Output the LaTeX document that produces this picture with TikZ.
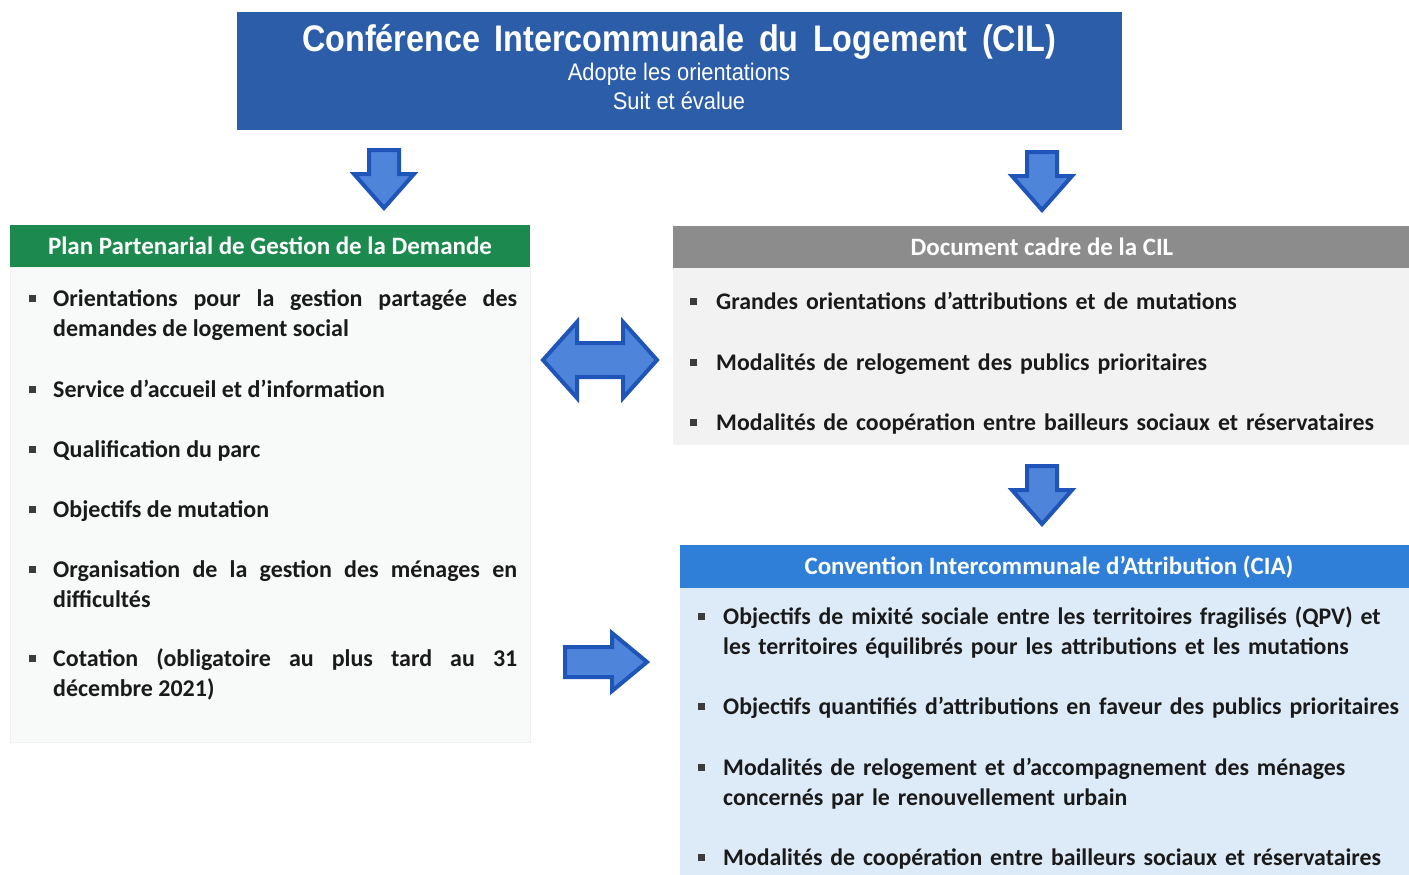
\documentclass[tikz,border=0pt]{standalone}
\usepackage{fontspec}
\setmainfont{Carlito}
\newfontfamily\arialf{Liberation Sans}
\newfontfamily\arialt[FakeStretch=0.875,WordSpace={1.6,1,1}]{Liberation Sans}
\newfontfamily\arials[FakeStretch=0.91]{Liberation Sans}
\usetikzlibrary{calc}
\definecolor{cilblue}{HTML}{2C5DA9}
\definecolor{ppgdgreen}{HTML}{1C8A4E}
\definecolor{docgray}{HTML}{8C8C8C}
\definecolor{docbody}{HTML}{F2F2F2}
\definecolor{ciablue}{HTML}{2F7FD9}
\definecolor{ciabody}{HTML}{DDEBF8}
\definecolor{leftbody}{HTML}{F8F9F9}
\definecolor{arrfill}{HTML}{4F84DB}
\definecolor{arrdraw}{HTML}{1F55B8}
\definecolor{bulgray}{HTML}{3C3C3C}
\definecolor{txt}{HTML}{1A1A1A}
\tikzset{
  box/.style={rectangle, inner sep=0pt, outer sep=0pt, anchor=north west},
  head/.style={text=white, font=\bfseries\fontsize{25}{28}\selectfont},
  itemj/.style={anchor=north west, inner sep=0pt, text width=464pt, align=justify, text=txt, font=\bfseries\fontsize{24}{30}\selectfont},
  iteml/.style={anchor=north west, inner sep=0pt, text width=700pt, align=left, text=txt, font=\bfseries\fontsize{23.8}{30}\selectfont},
  bul/.style={rectangle, fill=bulgray, minimum size=7pt, inner sep=0pt},
  blockarr/.style={fill=arrfill, draw=arrdraw, line width=4pt, line join=miter},
}
\newcommand\dnarrow[1]{\begin{scope}[shift={(#1)}]
  \draw[blockarr] (-15,0) -- (15,0) -- (15,24) -- (30,24) -- (0,58) -- (-30,24) -- (-15,24) -- cycle;
\end{scope}}
\begin{document}
\begin{tikzpicture}[x=1pt,y=-1pt]
\useasboundingbox[fill=white] (0,0) rectangle (1409,875);

% CIL box
\node[box, fill=cilblue, minimum width=885pt, minimum height=118pt] (cil) at (237,12) {};
\node[text=white, font=\arialt\bfseries\fontsize{37}{40}\selectfont] (cilt) at (679,42) {Conférence Intercommunale du Logement (CIL)};
\node[text=white, font=\arials\fontsize{24}{28}\selectfont] (cils1) at (679,74) {Adopte les orientations};
\node[text=white, font=\arials\fontsize{24}{28}\selectfont] (cils2) at (679,101) {Suit et évalue};

% PPGD
\node[box, fill=leftbody, draw=black!6, minimum width=520pt, minimum height=475pt] (ppgdb) at (10,267) {};
\node[box, fill=ppgdgreen, minimum width=520pt, minimum height=42pt] (ppgdh) at (10,225) {};
\node[head] (ppgdt) at (270,246) {Plan Partenarial de Gestion de la Demande};

\node[itemj] (l1) at (53,285) {\strut Orientations pour la gestion partagée des\linebreak demandes de logement social};
\node[bul] (b1) at (32,298) {};
\node[itemj] (l2) at (53,376) {\strut Service d’accueil et d’information};
\node[bul] (b2) at (32,389) {};
\node[itemj] (l3) at (53,436) {\strut Qualification du parc};
\node[bul] (b3) at (32,449) {};
\node[itemj] (l4) at (53,496) {\strut Objectifs de mutation};
\node[bul] (b4) at (32,509) {};
\node[itemj] (l5) at (53,556) {\strut Organisation de la gestion des ménages en\linebreak difficultés};
\node[bul] (b5) at (32,569) {};
\node[itemj] (l6) at (53,645) {\strut Cotation (obligatoire au plus tard au 31\linebreak décembre 2021)};
\node[bul] (b6) at (32,658) {};

% Document cadre
\node[box, fill=docbody, minimum width=736pt, minimum height=177pt] (docb) at (673,268) {};
\node[box, fill=docgray, minimum width=736pt, minimum height=42pt] (doch) at (673,226) {};
\node[head] (doct) at (1042,247) {Document cadre de la CIL};
\node[iteml] (r1) at (716,288) {\strut Grandes orientations d’attributions et de mutations};
\node[bul] (rb1) at (693,301) {};
\node[iteml] (r2) at (716,349) {\strut Modalités de relogement des publics prioritaires};
\node[bul] (rb2) at (693,362) {};
\node[iteml] (r3) at (716,409) {\strut Modalités de coopération entre bailleurs sociaux et réservataires};
\node[bul] (rb3) at (693,422) {};

% CIA
\node[box, fill=ciabody, minimum width=729pt, minimum height=287pt] (ciab) at (680,588) {};
\node[box, fill=ciablue, minimum width=729pt, minimum height=43pt] (ciah) at (680,545) {};
\node[head] (ciat) at (1049,567) {Convention Intercommunale d’Attribution (CIA)};
\node[iteml] (c1) at (723,603) {\strut Objectifs de mixité sociale entre les territoires fragilisés (QPV) et\\ les territoires équilibrés pour les attributions et les mutations};
\node[bul] (cb1) at (701,616) {};
\node[iteml] (c2) at (723,693) {\strut Objectifs quantifiés d’attributions en faveur des publics prioritaires};
\node[bul] (cb2) at (701,706) {};
\node[iteml] (c3) at (723,754) {\strut Modalités de relogement et d’accompagnement des ménages\\ concernés par le renouvellement urbain};
\node[bul] (cb3) at (701,767) {};
\node[iteml] (c4) at (723,844) {\strut Modalités de coopération entre bailleurs sociaux et réservataires};
\node[bul] (cb4) at (701,857) {};

% Arrows
\coordinate (a1) at (384,150);
\coordinate (a2) at (1042,152);
\coordinate (a3) at (1042,466);
\dnarrow{a1}
\dnarrow{a2}
\dnarrow{a3}
\coordinate (dbl) at (600,360);
\begin{scope}[shift={(dbl)}]
  \draw[blockarr] (-57,0) -- (-23,-38) -- (-23,-17) -- (23,-17) -- (23,-38) -- (57,0) -- (23,38) -- (23,17) -- (-23,17) -- (-23,38) -- cycle;
\end{scope}
\coordinate (ra) at (565,662);
\begin{scope}[shift={(ra)}]
  \draw[blockarr] (0,-15) -- (47,-15) -- (47,-29) -- (82,0) -- (47,29) -- (47,15) -- (0,15) -- cycle;
\end{scope}
\end{tikzpicture}
\end{document}
